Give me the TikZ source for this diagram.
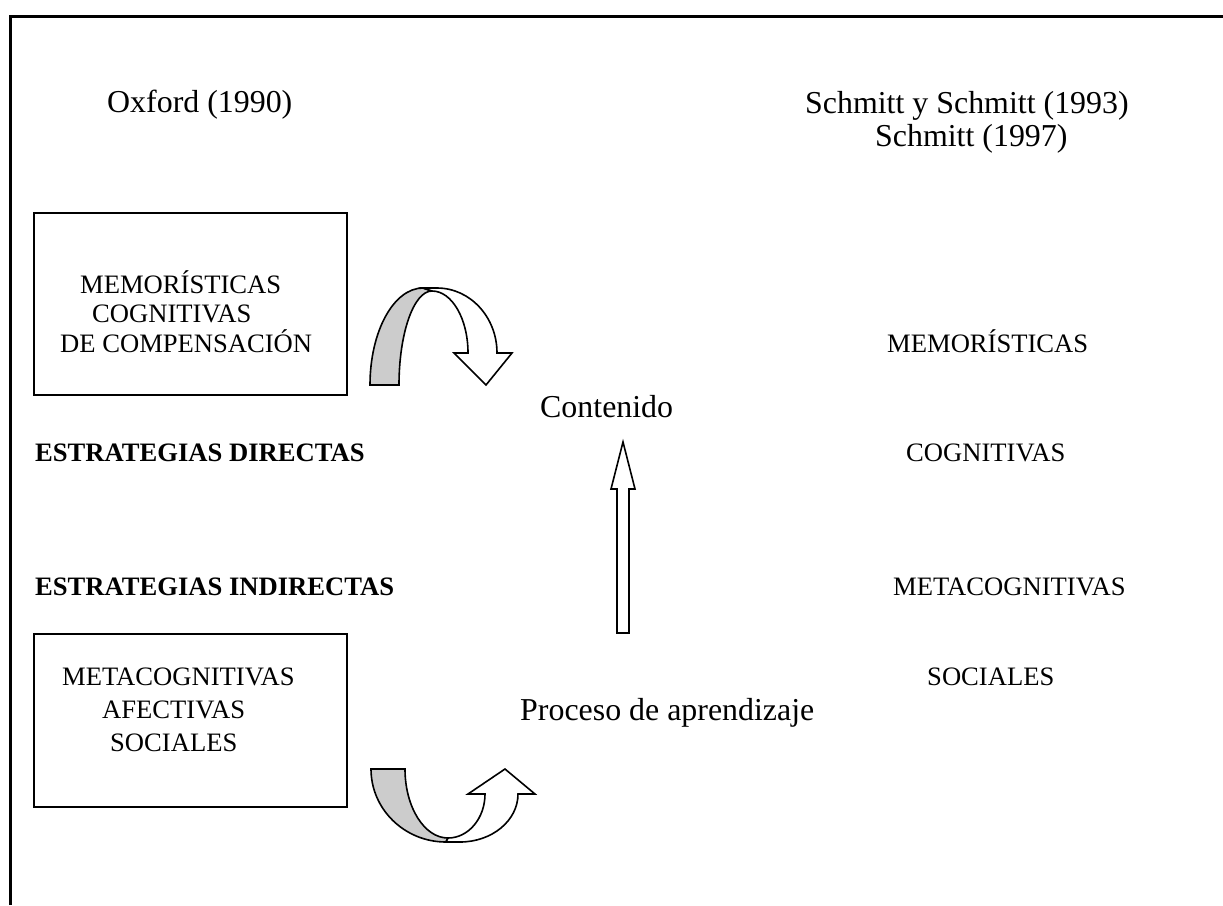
\documentclass[tikz,border=0pt]{standalone}
\usepackage{fontspec}
\setmainfont{Liberation Serif}
\begin{document}
\begin{tikzpicture}[x=1pt,y=-1pt,
  big/.style={inner sep=0pt,anchor=base west,font=\fontsize{31.9}{36}\selectfont},
  small/.style={inner sep=0pt,anchor=base west,font=\fontsize{26.6}{30}\selectfont},
  smallbold/.style={small,font=\fontsize{26.6}{30}\selectfont\bfseries},
  framebox/.style={draw,line width=2pt},
  blockarrow/.style={draw,line width=1.6pt,line join=miter,fill=white},
  backband/.style={draw,line width=1.6pt,fill=black!20}]
\useasboundingbox (0,0) rectangle (1223,905);

% outer frame (left and top sides)
\draw[line width=3pt] (10.8,905) -- (10.8,16.7) -- (1223,16.7);

% column headings
\node[big] (oxford) at (107,112) {Oxford (1990)};
\node[big] (schmitt1) at (805,113) {Schmitt y Schmitt (1993)};
\node[big] (schmitt2) at (875,146) {Schmitt (1997)};

% direct strategies box
\draw[framebox] (34,213) rectangle (347,395);
\node[small] (dmem) at (80,293) {MEMORÍSTICAS};
\node[small] (dcog) at (92,322) {COGNITIVAS};
\node[small] (dcomp) at (60,352) {DE COMPENSACIÓN};

% indirect strategies box
\draw[framebox] (34,634) rectangle (347,807);
\node[small] (imeta) at (62,685) {METACOGNITIVAS};
\node[small] (iafec) at (102,718) {AFECTIVAS};
\node[small] (isoc) at (110,751) {SOCIALES};

% group labels
\node[smallbold] (directas) at (35,461) {ESTRATEGIAS DIRECTAS};
\node[smallbold] (indirectas) at (35,595) {ESTRATEGIAS INDIRECTAS};

% central labels
\node[big] (contenido) at (540,417) {Contenido};
\node[big] (proceso) at (520,720) {Proceso de aprendizaje};

% right-hand column
\node[small] (rmem) at (887,352) {MEMORÍSTICAS};
\node[small] (rcog) at (906,461) {COGNITIVAS};
\node[small] (rmeta) at (893,595) {METACOGNITIVAS};
\node[small] (rsoc) at (927,685) {SOCIALES};

% curved arrow over the top (direct strategies -> content)
\draw[backband] (370,385) .. controls (370,331.4) and (393.7,288) .. (423,288)
  -- (432,291) .. controls (413.8,291) and (399,333.1) .. (399,385) -- cycle;
\draw[blockarrow] (423,288) -- (437,288)
  .. controls (470.1,288) and (497,317.1) .. (497,353)
  -- (512,353) -- (486,385) -- (454,353) -- (468,353)
  .. controls (468,318.8) and (451.9,291) .. (432,291) -- cycle;

% curved arrow underneath (indirect strategies -> learning process)
\draw[backband] (371,769) .. controls (371,809.3) and (404.6,842) .. (446,842)
  -- (448,838) .. controls (424.3,838) and (405,807.1) .. (405,769) -- cycle;
\draw[blockarrow] (446,842) -- (460,842)
  .. controls (492,842) and (518,820.5) .. (518,794)
  -- (535,794) -- (505,769) -- (468,794) -- (485,794)
  .. controls (485,818.3) and (468.4,838) .. (448,838) -- cycle;

% straight arrow from learning process up to content
\draw[blockarrow] (617,633) -- (617,489) -- (611,489) -- (623,442)
  -- (635,489) -- (629,489) -- (629,633) -- cycle;
\end{tikzpicture}
\end{document}
